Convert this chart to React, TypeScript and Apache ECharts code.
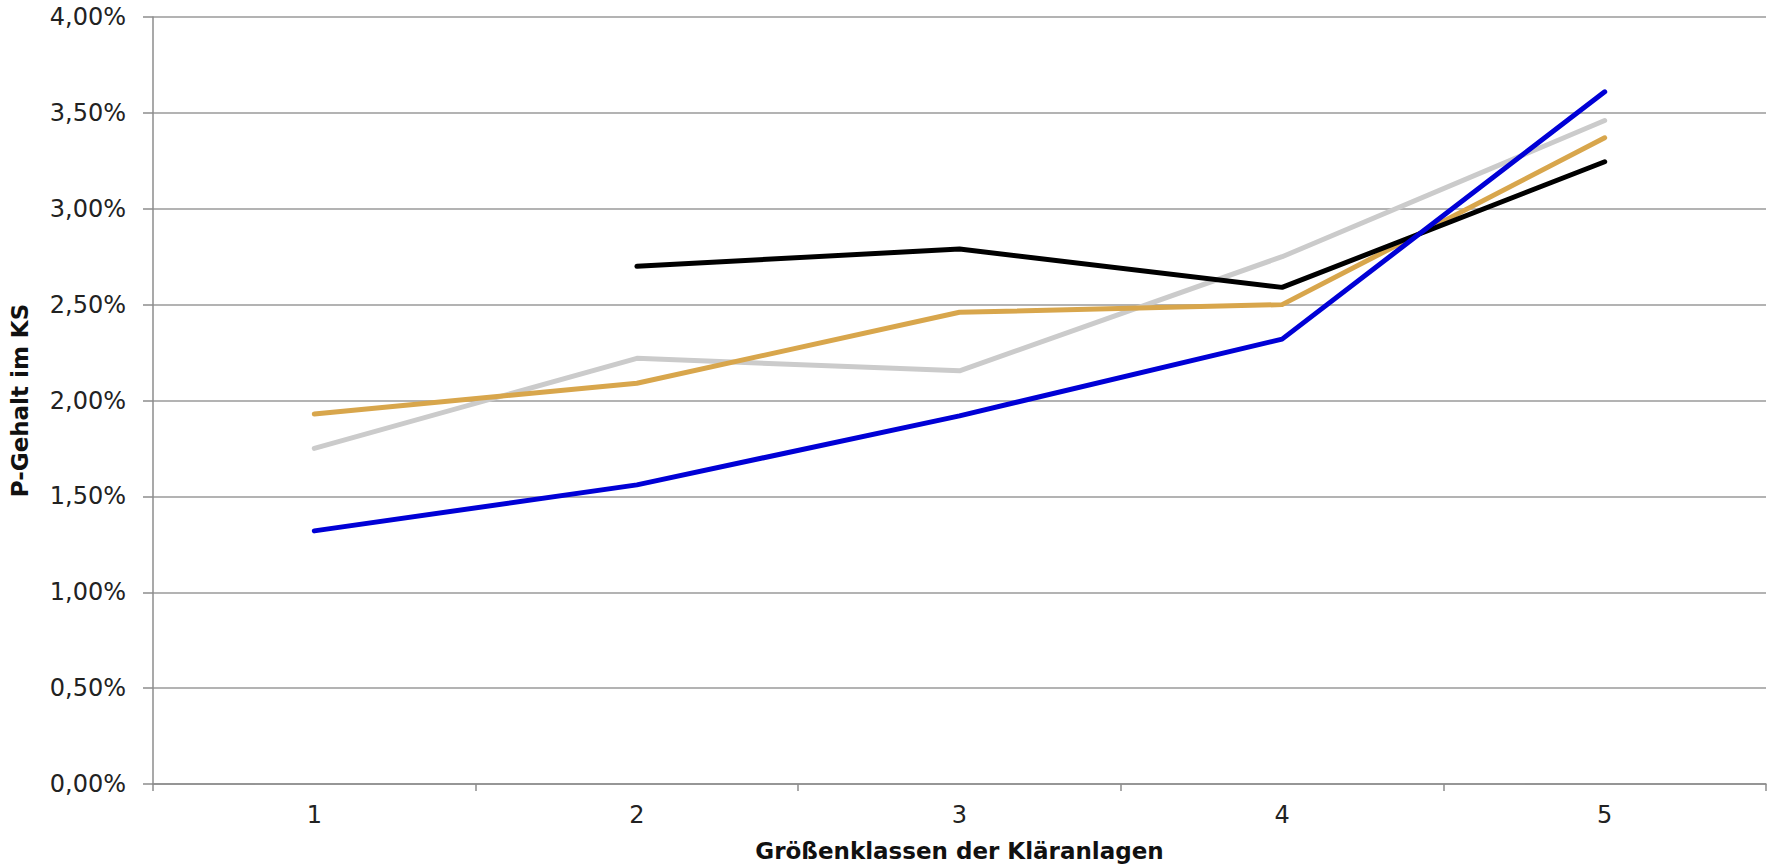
import React, { useEffect, useRef } from "react";
import * as echarts from "echarts";

const categories = ["1", "2", "3", "4", "5"];
const blueSeries = [1.32, 1.56, 1.92, 2.32, 3.61];
const orangeSeries = [1.93, 2.09, 2.46, 2.5, 3.37];
const graySeries = [1.75, 2.22, 2.155, 2.75, 3.46];
const blackSeries = [null, 2.7, 2.79, 2.59, 3.245];

const xAxisTitle = "Größenklassen der Kläranlagen";
const yAxisTitle = "P-Gehalt im KS";

const FONT = "'DejaVu Sans', Arial, sans-serif";

export default function App() {
  const ref = useRef<HTMLDivElement>(null);

  useEffect(() => {
    if (!ref.current) return;
    const chart = echarts.init(ref.current, undefined, { renderer: "svg" });
    const mkLine = (name: string, data: (number | null)[], color: string) => ({
      name,
      type: "line",
      data,
      symbol: "none",
      connectNulls: false,
      lineStyle: { color, width: 5, cap: "round", join: "round" },
      itemStyle: { color },
    });
    chart.setOption({
      animation: false,
      backgroundColor: "#ffffff",
      textStyle: { fontFamily: FONT },
      grid: { left: 147, right: 7, top: 17, bottom: 80, containLabel: false },
      xAxis: {
        type: "category",
        data: categories,
        boundaryGap: true,
        name: xAxisTitle,
        nameLocation: "middle",
        nameGap: 55,
        nameTextStyle: { fontFamily: FONT, fontSize: 23, fontWeight: "bold", color: "#111" },
        axisLine: { lineStyle: { color: "#8c8c8c", width: 1.5 } },
        axisTick: { show: true, length: 7, alignWithLabel: false, lineStyle: { color: "#8c8c8c", width: 1.5 } },
        axisLabel: { fontFamily: FONT, fontSize: 24, color: "#222", margin: 19 },
        splitLine: { show: false },
      },
      yAxis: {
        type: "value",
        min: 0,
        max: 4,
        interval: 0.5,
        name: yAxisTitle,
        nameLocation: "middle",
        nameGap: 122,
        nameRotate: 90,
        nameTextStyle: { fontFamily: FONT, fontSize: 23, fontWeight: "bold", color: "#111" },
        axisLine: { show: true, lineStyle: { color: "#8c8c8c", width: 1.5 } },
        axisTick: { show: true, length: 10, inside: false, lineStyle: { color: "#8c8c8c", width: 1.5 } },
        axisLabel: {
          fontFamily: FONT,
          fontSize: 24,
          color: "#222",
          margin: 27,
          formatter: (v: number) => v.toFixed(2).replace(".", ",") + "%",
        },
        splitLine: { show: true, lineStyle: { color: "#9a9a9a", width: 1.5 } },
      },
      series: [
        mkLine("Grau", graySeries, "#cbcbcb"),
        mkLine("Orange", orangeSeries, "#d8a64c"),
        mkLine("Schwarz", blackSeries, "#000000"),
        mkLine("Blau", blueSeries, "#0000d6"),
      ],
    });
    return () => chart.dispose();
  }, []);

  return (
    <div
      ref={ref}
      style={{ position: "fixed", left: 0, top: 0, width: 1773, height: 867, background: "#fff" }}
    />
  );
}
